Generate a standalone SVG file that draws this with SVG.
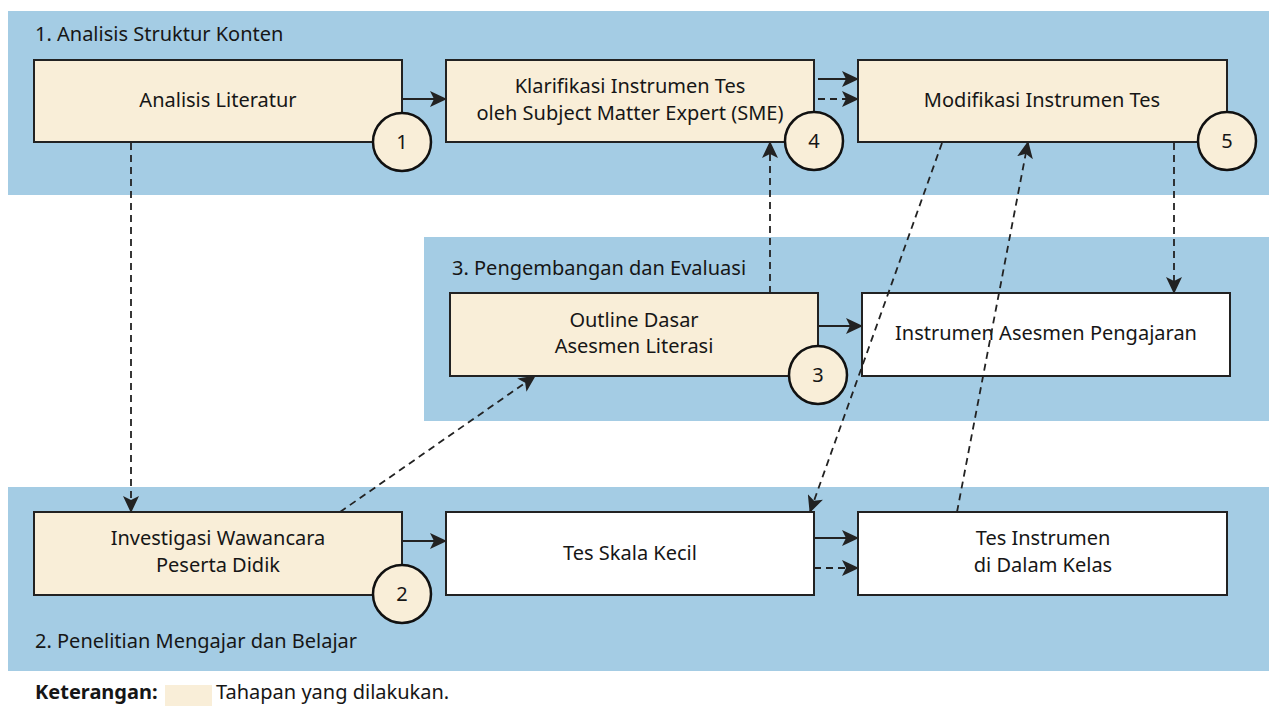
<svg xmlns="http://www.w3.org/2000/svg" width="1269" height="706" viewBox="0 0 1269 706">
<style>
.panel{fill:#A4CCE4}
.box{stroke:#222;stroke-width:2}
.done{fill:#F9EED8}
.plain{fill:#FFFFFF}
.circ{fill:#F9EED8;stroke:#111;stroke-width:2.5}
text{font-family:"Noto Sans",Lato,sans-serif;font-size:20px;fill:#161616}
.c{text-anchor:middle}
.solid{stroke:#222;stroke-width:2;fill:none}
.dash{stroke:#222;stroke-width:1.8;fill:none;stroke-dasharray:7 5}
</style>
<defs>
<marker id="ah" markerUnits="userSpaceOnUse" markerWidth="18" markerHeight="16" viewBox="0 0 18 16" refX="16" refY="8" orient="auto">
<path d="M0,0 L17,8 L0,16 L4,8 Z" fill="#222"/>
</marker>
</defs>
<rect width="1269" height="706" fill="#FFFFFF"/>
<g id="panels">
<rect class="panel" x="8" y="11" width="1261" height="184"/>
<rect class="panel" x="424" y="237" width="845" height="184"/>
<rect class="panel" x="8" y="487" width="1261" height="184"/>
<text x="35" y="41">1. Analisis Struktur Konten</text>
<text x="452" y="275">3. Pengembangan dan Evaluasi</text>
<text x="35" y="648">2. Penelitian Mengajar dan Belajar</text>
</g>
<g id="n1">
<rect class="box done" x="34" y="60" width="368" height="82"/>
<text class="c" x="218" y="107">Analisis Literatur</text>
<circle class="circ" cx="402" cy="142" r="29"/>
<text class="c" x="402" y="149">1</text>
</g>
<g id="n4">
<rect class="box done" x="446" y="60" width="368" height="82"/>
<text class="c" x="630" y="93">Klarifikasi Instrumen Tes</text>
<text class="c" x="630" y="120">oleh Subject Matter Expert (SME)</text>
<circle class="circ" cx="814" cy="141" r="29"/>
<text class="c" x="814" y="148">4</text>
</g>
<g id="n5">
<rect class="box done" x="858" y="60" width="369" height="82"/>
<text class="c" x="1042" y="107">Modifikasi Instrumen Tes</text>
<circle class="circ" cx="1227" cy="141" r="29"/>
<text class="c" x="1227" y="148">5</text>
</g>
<g id="n3">
<rect class="box done" x="450" y="293" width="368" height="83"/>
<text class="c" x="634" y="327">Outline Dasar</text>
<text class="c" x="634" y="353">Asesmen Literasi</text>
<circle class="circ" cx="818" cy="375" r="29"/>
<text class="c" x="818" y="382">3</text>
</g>
<g id="n6">
<rect class="box plain" x="862" y="293" width="368" height="83"/>
<text class="c" x="1046" y="340">Instrumen Asesmen Pengajaran</text>
</g>
<g id="n2">
<rect class="box done" x="34" y="512" width="368" height="83"/>
<text class="c" x="218" y="545">Investigasi Wawancara</text>
<text class="c" x="218" y="572">Peserta Didik</text>
<circle class="circ" cx="402" cy="594" r="29"/>
<text class="c" x="402" y="601">2</text>
</g>
<g id="n7">
<rect class="box plain" x="446" y="512" width="368" height="83"/>
<text class="c" x="630" y="560">Tes Skala Kecil</text>
</g>
<g id="n8">
<rect class="box plain" x="858" y="512" width="369" height="83"/>
<text class="c" x="1043" y="545">Tes Instrumen</text>
<text class="c" x="1043" y="572">di Dalam Kelas</text>
</g>
<g id="connectors">
<line class="solid" x1="402" y1="99" x2="446" y2="99" marker-end="url(#ah)"/>
<line class="solid" x1="818" y1="79" x2="858" y2="79" marker-end="url(#ah)"/>
<line class="dash" x1="818" y1="99" x2="858" y2="99" marker-end="url(#ah)"/>
<line class="solid" x1="818" y1="326" x2="862" y2="326" marker-end="url(#ah)"/>
<line class="solid" x1="402" y1="541" x2="446" y2="541" marker-end="url(#ah)"/>
<line class="solid" x1="814" y1="538" x2="858" y2="538" marker-end="url(#ah)"/>
<line class="dash" x1="814" y1="568" x2="858" y2="568" marker-end="url(#ah)"/>
<line class="dash" x1="131" y1="143" x2="131" y2="512" marker-end="url(#ah)"/>
<line class="dash" x1="340" y1="512" x2="535" y2="376" marker-end="url(#ah)"/>
<line class="dash" x1="770" y1="293" x2="770" y2="142" marker-end="url(#ah)"/>
<line class="dash" x1="942" y1="143" x2="810" y2="512" marker-end="url(#ah)"/>
<line class="dash" x1="957" y1="512" x2="1028" y2="142" marker-end="url(#ah)"/>
<line class="dash" x1="1174" y1="143" x2="1174" y2="293" marker-end="url(#ah)"/>
</g>
<g id="legend">
<text x="35" y="699" font-weight="bold">Keterangan:</text>
<rect x="165" y="685" width="47" height="21" fill="#F9EED8"/>
<text x="216" y="699">Tahapan yang dilakukan.</text>
</g>
</svg>
